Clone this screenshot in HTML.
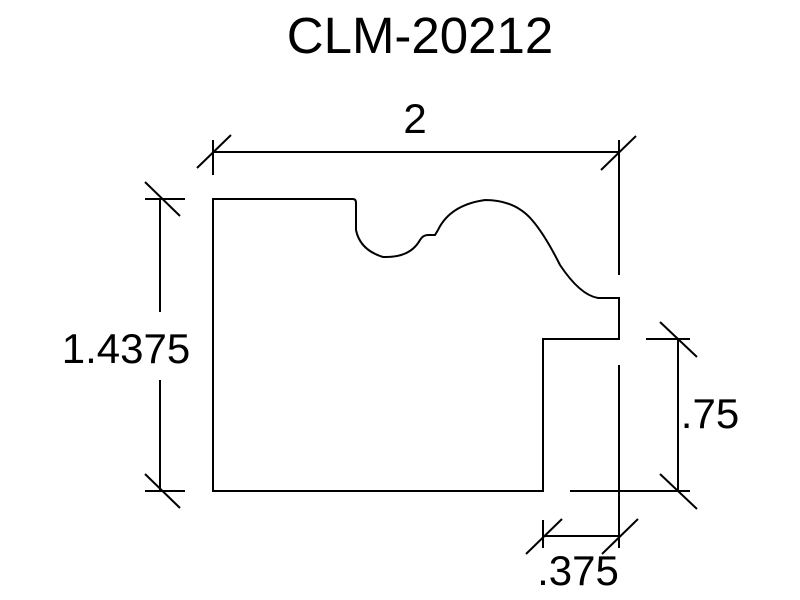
<!DOCTYPE html>
<html><head><style>body{margin:0;background:#fff}svg{display:block}</style></head><body>
<svg width="800" height="600" viewBox="0 0 800 600" xmlns="http://www.w3.org/2000/svg">
<g fill="none" stroke="#000" stroke-width="2">
<path d="M213,491 V199 H353 Q356,199 356,203 V230 Q360,250 383,257 Q410,258 420,240 Q423,235 428,235 H435 L438,230 Q450,205 485,200 Q515,200 532,220 Q545,235 560,265 Q580,295 598,298 H619 V339 H543 V491 Z"/>
<line x1="619" y1="140" x2="619" y2="275"/>
<line x1="619" y1="365" x2="619" y2="548"/>
<line x1="570" y1="491" x2="690" y2="491"/>
<line x1="646" y1="339" x2="690" y2="339"/>
<line x1="678" y1="339" x2="678" y2="491"/>
<line x1="660" y1="322" x2="697" y2="357"/>
<line x1="660" y1="474" x2="697" y2="509"/>
<line x1="543" y1="520" x2="543" y2="548"/>
<line x1="543" y1="536" x2="619" y2="536"/>
<line x1="526" y1="554" x2="562" y2="519"/>
<line x1="602" y1="554" x2="638" y2="519"/>
<line x1="213" y1="140" x2="213" y2="175"/>
<line x1="213" y1="152" x2="619" y2="152"/>
<line x1="197" y1="168" x2="231" y2="135"/>
<line x1="601" y1="170" x2="636" y2="136"/>
<line x1="145" y1="199" x2="185" y2="199"/>
<line x1="145" y1="491" x2="185" y2="491"/>
<line x1="160" y1="199" x2="160" y2="312"/>
<line x1="160" y1="380" x2="160" y2="491"/>
<line x1="145" y1="182" x2="180" y2="216"/>
<line x1="145" y1="474" x2="180" y2="508"/>
</g>
<g font-family="Liberation Sans, sans-serif" fill="#000">
<text x="420" y="53" font-size="51" text-anchor="middle">CLM-20212</text>
<text x="415" y="133" font-size="42" text-anchor="middle">2</text>
<text x="126" y="363" font-size="42" text-anchor="middle">1.4375</text>
<text x="710" y="428" font-size="42" text-anchor="middle">.75</text>
<text x="578" y="585" font-size="42" text-anchor="middle">.375</text>
</g>
</svg>
</body></html>
